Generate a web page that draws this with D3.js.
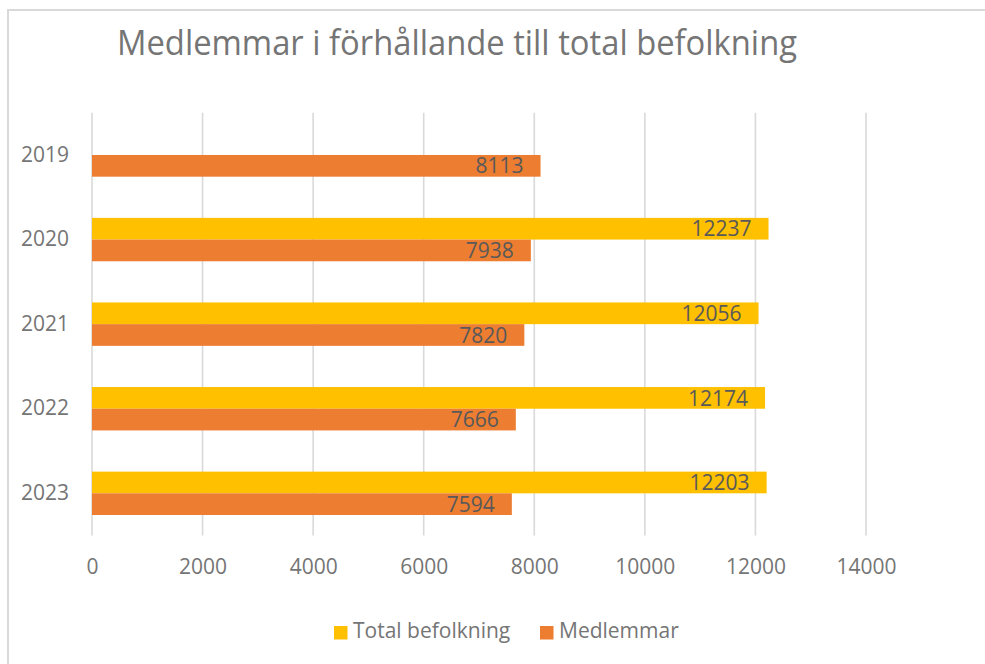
<!DOCTYPE html>
<html>
<head>
<meta charset="utf-8">
<script src="https://cdn.jsdelivr.net/npm/d3@7"></script>
<style>
  body { margin: 0; background: #fff; }
  svg text { font-family: "Open Sans", "Liberation Sans", sans-serif; }
</style>
</head>
<body>
<div id="chart"></div>
<script>
// chart data
const years = ["2019", "2020", "2021", "2022", "2023"];
const seriesNames = ["Total befolkning", "Medlemmar"];
const totalBefolkning = [null, 12237, 12056, 12174, 12203];
const medlemmar = [8113, 7938, 7820, 7666, 7594];
const xTicks = [0, 2000, 4000, 6000, 8000, 10000, 12000, 14000];
const titleText = "Medlemmar i förhållande till total befolkning";

const colors = { "Total befolkning": "#FFC000", "Medlemmar": "#ED7D31" };

const W = 985, H = 664;
var margin = {top: 112.7, right: 119, bottom: 128.4, left: 92};

const svg = d3.select("#chart").append("svg")
    .attr("width", W)
    .attr("height", H);

// outer frame (only top/left edges visible in the crop)
svg.append("rect")
    .attr("x", 8).attr("y", 10)
    .attr("width", W + 20).attr("height", H + 20)
    .attr("fill", "none")
    .attr("stroke", "#d9d9d9")
    .attr("stroke-width", 2);

// title
svg.append("text")
    .attr("x", 117).attr("y", 55)
    .attr("textLength", 680)
    .attr("lengthAdjust", "spacingAndGlyphs")
    .style("font-size", "35px")
    .style("fill", "#757575")
    .text(titleText);

// scales
var x = d3.scaleLinear()
    .domain([0, 14000])
    .range([margin.left, W - margin.right]);

var y = d3.scaleBand()
    .domain(years)
    .range([margin.top, H - margin.bottom])
    .paddingInner(0.487)
    .paddingOuter(0.2435);

var ySub = d3.scaleBand()
    .domain(seriesNames)
    .range([0, y.bandwidth()]);

// gridlines
svg.append("g")
    .selectAll("line")
    .data(xTicks)
    .enter()
    .append("line")
    .attr("x1", d => x(d)).attr("x2", d => x(d))
    .attr("y1", margin.top).attr("y2", H - margin.bottom)
    .attr("stroke", "#d9d9d9")
    .attr("stroke-width", 1.6);

// x axis labels
var xAxis = svg.append("g")
    .attr("transform", "translate(0," + (H - margin.bottom) + ")")
    .call(d3.axisBottom(x).tickValues(xTicks).tickSize(0).tickPadding(23).tickFormat(d3.format("d")));
xAxis.select(".domain").remove();
xAxis.selectAll("text")
    .style("font-size", "21px")
    .style("fill", "#757575")
    .attr("font-family", null);

// y axis labels
var yAxis = svg.append("g")
    .attr("transform", "translate(" + margin.left + ",0)")
    .call(d3.axisLeft(y).tickSize(0).tickPadding(23));
yAxis.select(".domain").remove();
yAxis.selectAll("text")
    .style("font-size", "21px")
    .style("fill", "#757575")
    .attr("font-family", null);

// bars
const rows = [];
years.forEach((yr, i) => {
    if (totalBefolkning[i] != null) rows.push({year: yr, series: "Total befolkning", value: totalBefolkning[i]});
    rows.push({year: yr, series: "Medlemmar", value: medlemmar[i]});
});

svg.append("g")
    .selectAll("rect")
    .data(rows)
    .enter()
    .append("rect")
    .attr("x", x(0))
    .attr("y", d => y(d.year) + ySub(d.series))
    .attr("width", d => x(d.value) - x(0))
    .attr("height", ySub.bandwidth())
    .attr("fill", d => colors[d.series]);

// data labels (inside end)
svg.append("g")
    .selectAll("text")
    .data(rows)
    .enter()
    .append("text")
    .attr("x", d => x(d.value) - 17)
    .attr("y", d => y(d.year) + ySub(d.series) + ySub.bandwidth() / 2 + 2)
    .attr("text-anchor", "end")
    .attr("dominant-baseline", "middle")
    .style("font-size", "21px")
    .style("fill", "#595959")
    .text(d => d.value);

// legend
const legendX = [334, 540];
var legend = svg.append("g");
seriesNames.forEach((name, i) => {
    legend.append("rect")
        .attr("x", legendX[i]).attr("y", 626)
        .attr("width", 13.5).attr("height", 13.5)
        .attr("fill", colors[name]);
    legend.append("text")
        .attr("x", legendX[i] + 19).attr("y", 632.5)
        .attr("dominant-baseline", "middle")
        .style("font-size", "21px")
        .style("fill", "#757575")
        .text(name);
});
</script>
</body>
</html>
